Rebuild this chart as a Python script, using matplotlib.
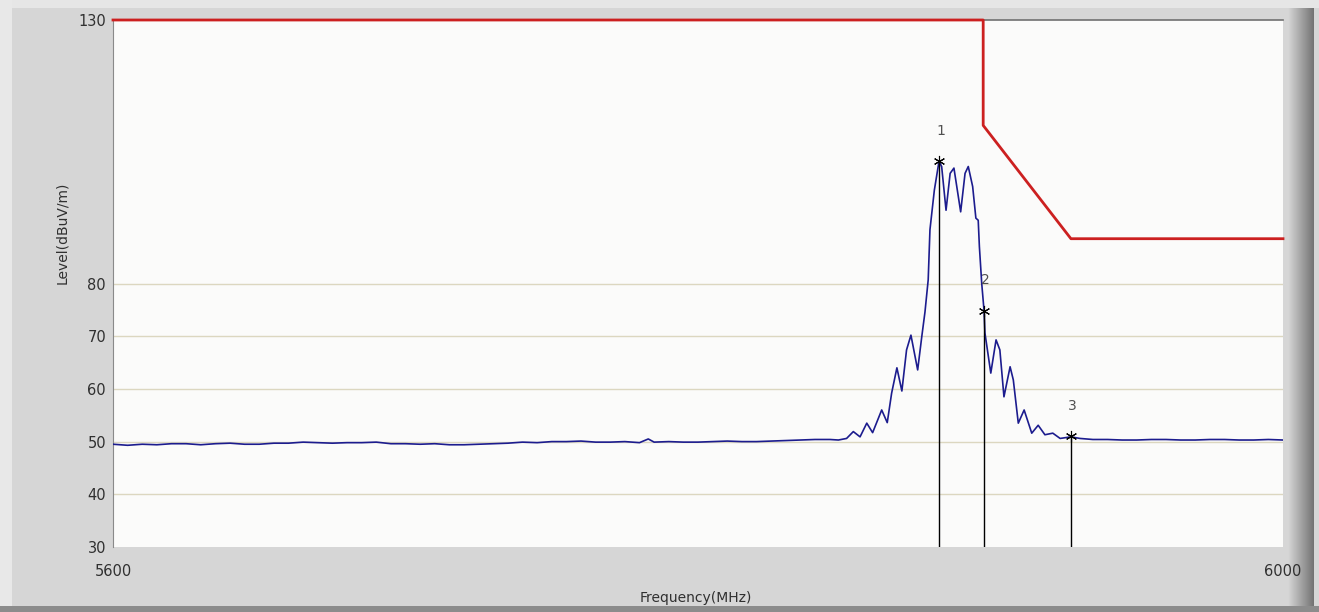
import matplotlib
matplotlib.use("Agg")
import matplotlib.pyplot as plt
import matplotlib.patches as mpatches
import numpy as np

plt.rcParams["font.family"] = ["DejaVu Sans"]

# measured trace (MHz, dBuV/m)
FREQ = [
    5600, 5605, 5610, 5615, 5620, 5625, 5630, 5635, 5640, 5645,
    5650, 5655, 5660, 5665, 5670, 5675, 5680, 5685, 5690, 5695,
    5700, 5705, 5710, 5715, 5720, 5725, 5730, 5735, 5740, 5745,
    5750, 5755, 5760, 5765, 5770, 5775, 5780, 5783, 5785, 5790,
    5795, 5800, 5805, 5810, 5815, 5820, 5825, 5830, 5835, 5840,
    5845.1, 5848.0, 5850.8, 5853.1, 5855.4, 5857.7, 5859.7, 5862.8, 5864.7, 5866.2,
    5868.0, 5869.7, 5871.3, 5872.8, 5875.1, 5876.5, 5877.6, 5878.7, 5879.3, 5880.8,
    5882.4, 5883.3, 5884.8, 5886.2, 5887.5, 5889.8, 5891.3, 5892.4, 5893.9, 5895.0,
    5895.8, 5896.2, 5897.0, 5897.8, 5898.1, 5900.1, 5901.9, 5903.2, 5904.6, 5906.7,
    5907.8, 5909.5, 5911.5, 5914.1, 5916.3, 5918.6, 5921.3, 5923.8, 5927.5, 5930.6,
    5935, 5940, 5945, 5950, 5955, 5960, 5965, 5970, 5975, 5980,
    5985, 5990, 5995, 6000,
]
LEVEL = [
    49.5, 49.3, 49.5, 49.4, 49.6, 49.6, 49.4, 49.6, 49.7, 49.5,
    49.5, 49.7, 49.7, 49.9, 49.8, 49.7, 49.8, 49.8, 49.9, 49.6,
    49.6, 49.5, 49.6, 49.4, 49.4, 49.5, 49.6, 49.7, 49.9, 49.8,
    50.0, 50.0, 50.1, 49.9, 49.9, 50.0, 49.8, 50.5, 49.9, 50.0,
    49.9, 49.9, 50.0, 50.1, 50.0, 50.0, 50.1, 50.2, 50.3, 50.4,
    50.4, 50.3, 50.6, 51.9, 50.9, 53.5, 51.7, 56.0, 53.6, 59.2,
    64.0, 59.6, 67.4, 70.2, 63.6, 69.9, 74.6, 80.7, 90.2, 97.7,
    103.2, 102.2, 93.9, 100.9, 101.9, 93.6, 100.9, 102.2, 98.4, 92.4,
    92.0, 87.0, 80.0, 74.8, 70.6, 63.0, 69.3, 67.4, 58.5, 64.2,
    61.7, 53.5, 56.0, 51.6, 53.1, 51.3, 51.6, 50.6, 50.9, 50.6,
    50.4, 50.4, 50.3, 50.3, 50.4, 50.4, 50.3, 50.3, 50.4, 50.4,
    50.3, 50.3, 50.4, 50.3,
]

# limit line
LIMIT_F = [5600, 5897.5, 5897.5, 5927.5, 6000]
LIMIT_L = [130, 130, 110, 88.5, 88.5]

# markers
MARKER_F = [5882.4, 5897.8, 5927.5]
MARKER_L = [103.2, 74.8, 51.0]
MARKER_LABELS = ["1", "2", "3"]

Y_TICKS = [30, 40, 50, 60, 70, 80, 130]
X_TICKS = [5600, 6000]

W, H = 1319, 612
fig = plt.figure(figsize=(W / 100, H / 100), dpi=100)
fig.patch.set_facecolor("#d6d6d6")

# window bevel
fig.add_artist(mpatches.Rectangle((0, 1 - 8 / H), 1, 8 / H, transform=fig.transFigure,
                                  facecolor="#e6e6e6", edgecolor="none"))
fig.add_artist(mpatches.Rectangle((0, 0), 12 / W, 1, transform=fig.transFigure,
                                  facecolor="#e8e8e8", edgecolor="none"))
fig.add_artist(mpatches.Rectangle((0, 0), 1, 6 / H, transform=fig.transFigure,
                                  facecolor="#8c8c8c", edgecolor="none"))
bev = fig.add_axes([1288 / W, 6 / H, 26 / W, 1 - 6 / H])
bev.imshow(np.linspace(0.84, 0.45, 64)[None, :], aspect="auto", cmap="gray", vmin=0, vmax=1)
bev.axis("off")

ax = fig.add_axes([113 / W, 1 - 547 / H, (1283 - 113) / W, (547 - 20) / H])
ax.set_facecolor("#fbfbfa")

ax.set_xlim(5600, 6000)
ax.set_ylim(30, 130)
ax.set_yticks(Y_TICKS)
ax.set_yticklabels([str(v) for v in Y_TICKS], fontsize=10.5, color="#303030")
ax.set_xticks(X_TICKS)
ax.set_xticklabels([str(v) for v in X_TICKS], fontsize=10.5, color="#303030")
ax.tick_params(axis="y", length=0, pad=5)
ax.tick_params(axis="x", length=0, pad=12)

for lv in Y_TICKS[1:-1]:
    ax.axhline(lv, color="#dcd7c0", linewidth=1.0, zorder=1)

for side in ("right", "bottom"):
    ax.spines[side].set_visible(False)
ax.spines["left"].set_color("#8a8a8a")
ax.spines["top"].set_color("#707070")
ax.spines["top"].set_linewidth(1.2)

ax.plot(FREQ, LEVEL, color="#1c1c8e", linewidth=1.2, zorder=3)
ax.plot(LIMIT_F, LIMIT_L, color="#cc2020", linewidth=2.0, zorder=4, clip_on=False)

for f, lv, lab in zip(MARKER_F, MARKER_L, MARKER_LABELS):
    ax.vlines(f, 30, lv, color="black", linewidth=1.0, zorder=5)
    ax.plot(f, lv, marker=(6, 2, 0), markersize=8, color="black", markeredgewidth=0.8, zorder=6)
    ax.annotate(lab, (f, lv), xytext=(1, 17), textcoords="offset points",
                ha="center", va="bottom", fontsize=10, color="#505050")

fig.text(62 / W, 1 - 233 / H, "Level(dBuV/m)", rotation=90, ha="center", va="center",
         fontsize=10, color="#303030")
fig.text(696 / W, 1 - 598 / H, "Frequency(MHz)", ha="center", va="center",
         fontsize=10, color="#303030")

fig.savefig("out.png", dpi=100, facecolor=fig.get_facecolor())
